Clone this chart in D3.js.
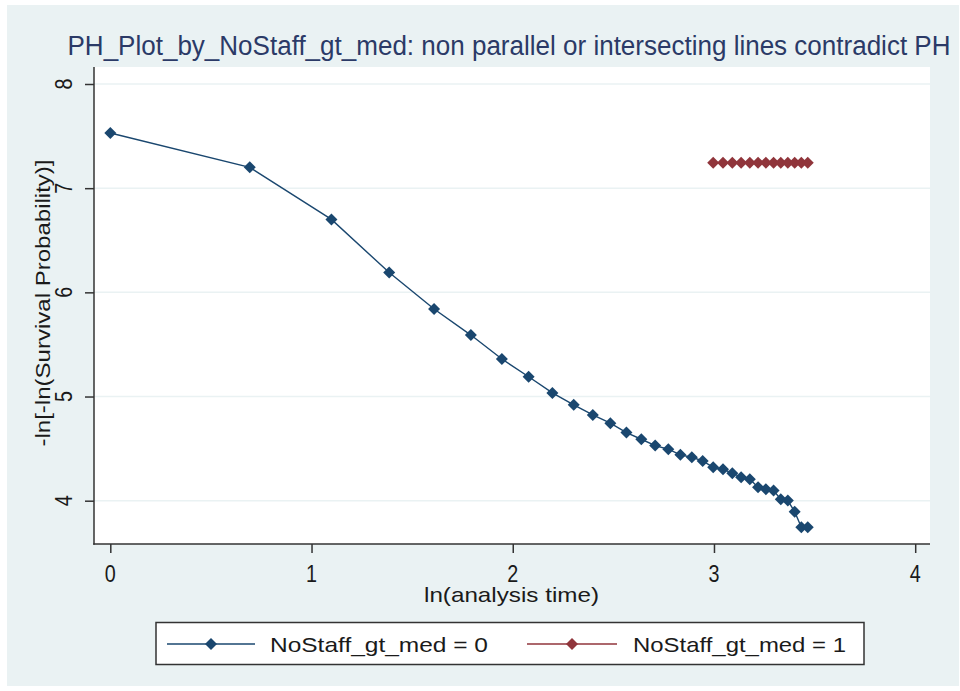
<!DOCTYPE html>
<html>
<head>
<meta charset="utf-8">
<script src="https://cdn.jsdelivr.net/npm/d3@7"></script>
<style>
    body { margin: 0; background: #ffffff; }
    text { font-family: "Liberation Sans", Arial, sans-serif; }
</style>
</head>
<body>
<script>
// ln(analysis time) and -ln[-ln(S)]
var lnTime0 = [0, 0.693, 1.099, 1.386, 1.609, 1.792, 1.946, 2.079, 2.197, 2.303,
    2.398, 2.485, 2.565, 2.639, 2.708, 2.773, 2.833, 2.890, 2.944, 2.996,
    3.045, 3.091, 3.135, 3.178, 3.219, 3.258, 3.296, 3.332, 3.367, 3.401,
    3.434, 3.466];
var lnlnS0 = [7.53, 7.20, 6.70, 6.19, 5.84, 5.59, 5.36, 5.19, 5.035, 4.92,
    4.823, 4.744, 4.654, 4.59, 4.529, 4.494, 4.44, 4.417, 4.382, 4.321,
    4.302, 4.264, 4.226, 4.206, 4.13, 4.111, 4.097, 4.014, 4.001, 3.895,
    3.746, 3.746];

var lnTime1 = [2.996, 3.045, 3.091, 3.135, 3.178, 3.219, 3.258, 3.296, 3.332,
    3.367, 3.401, 3.434, 3.466];
var lnlnS1 = [7.245, 7.245, 7.245, 7.245, 7.245, 7.245, 7.245, 7.245, 7.245,
    7.245, 7.245, 7.245, 7.245];

var xTicks = [0, 1, 2, 3, 4];
var yTicks = [4, 5, 6, 7, 8];

var seriesNames = ["NoStaff_gt_med = 0", "NoStaff_gt_med = 1"];
var seriesColors = ["#1a476f", "#90353b"];

var titleText = "PH_Plot_by_NoStaff_gt_med: non parallel or intersecting lines contradict PH";
var xTitle = "ln(analysis time)";
var yTitle = "-ln[-ln(Survival Probability)]";

var W = 960, H = 691;
var plot = {left: 94, right: 930, top: 67, bottom: 544};

var svg = d3.select("body").append("svg")
    .attr("width", W)
    .attr("height", H);

// graph region
svg.append("rect")
    .attr("x", 7).attr("y", 5)
    .attr("width", W - 8).attr("height", H - 10)
    .attr("fill", "#eaf2f3");

// plot region
svg.append("rect")
    .attr("x", plot.left).attr("y", plot.top)
    .attr("width", plot.right - plot.left)
    .attr("height", plot.bottom - plot.top)
    .attr("fill", "#ffffff");

var x = d3.scaleLinear().domain([0, 4]).range([110.3, 915.2]);
var y = d3.scaleLinear().domain([4, 8]).range([500.7, 84]);

// grid
svg.append("g")
    .selectAll("line")
    .data(yTicks)
    .enter()
    .append("line")
    .attr("x1", plot.left).attr("x2", plot.right)
    .attr("y1", function (d) { return y(d); })
    .attr("y2", function (d) { return y(d); })
    .attr("stroke", "#eaf2f3")
    .attr("stroke-width", 1.5);

// ticks via d3 axes, labels drawn separately (stata style)
var gx = svg.append("g")
    .attr("transform", "translate(0," + plot.bottom + ")")
    .call(d3.axisBottom(x).tickValues(xTicks).tickSize(9).tickSizeOuter(0).tickFormat(""));
var gy = svg.append("g")
    .attr("transform", "translate(" + plot.left + ",0)")
    .call(d3.axisLeft(y).tickValues(yTicks).tickSize(9).tickSizeOuter(0).tickFormat(""));
gx.select(".domain").remove();
gy.select(".domain").remove();
svg.selectAll(".tick line").attr("stroke", "#333333").attr("stroke-width", 1.5);

// axis lines
svg.append("line")
    .attr("x1", plot.left).attr("x2", plot.left)
    .attr("y1", plot.top).attr("y2", plot.bottom + 0.75)
    .attr("stroke", "#333333").attr("stroke-width", 1.5);
svg.append("line")
    .attr("x1", plot.left - 0.75).attr("x2", plot.right)
    .attr("y1", plot.bottom).attr("y2", plot.bottom)
    .attr("stroke", "#333333").attr("stroke-width", 1.5);

// tick labels
svg.append("g")
    .selectAll("text")
    .data(xTicks)
    .enter()
    .append("text")
    .attr("x", function (d) { return x(d); })
    .attr("y", 582)
    .attr("text-anchor", "middle")
    .attr("font-size", 24)
    .attr("textLength", 11)
    .attr("lengthAdjust", "spacingAndGlyphs")
    .attr("fill", "#1a1a1a")
    .text(function (d) { return d; });

svg.append("g")
    .selectAll("text")
    .data(yTicks)
    .enter()
    .append("text")
    .attr("transform", function (d) { return "translate(72," + y(d) + ") rotate(-90)"; })
    .attr("text-anchor", "middle")
    .attr("font-size", 24)
    .attr("textLength", 11)
    .attr("lengthAdjust", "spacingAndGlyphs")
    .attr("fill", "#1a1a1a")
    .text(function (d) { return d; });

// axis titles
svg.append("text")
    .attr("x", 511.5).attr("y", 601.5)
    .attr("text-anchor", "middle")
    .attr("font-size", 21)
    .attr("textLength", 175)
    .attr("lengthAdjust", "spacingAndGlyphs")
    .attr("fill", "#1a1a1a")
    .text(xTitle);

svg.append("text")
    .attr("transform", "translate(50,303) rotate(-90)")
    .attr("text-anchor", "middle")
    .attr("font-size", 21)
    .attr("textLength", 287)
    .attr("lengthAdjust", "spacingAndGlyphs")
    .attr("fill", "#1a1a1a")
    .text(yTitle);

// chart title
svg.append("text")
    .attr("x", 67.5).attr("y", 55)
    .attr("font-size", 27)
    .attr("textLength", 883)
    .attr("lengthAdjust", "spacingAndGlyphs")
    .attr("fill", "#2b3a67")
    .text(titleText);

function diamond(r) {
    return "M0," + (-r) + "L" + r + ",0L0," + r + "L" + (-r) + ",0Z";
}

function drawSeries(xs, ys, color) {
    var pts = xs.map(function (v, i) { return [v, ys[i]]; });
    var line = d3.line()
        .x(function (d) { return x(d[0]); })
        .y(function (d) { return y(d[1]); });
    svg.append("path")
        .datum(pts)
        .attr("d", line)
        .attr("fill", "none")
        .attr("stroke", color)
        .attr("stroke-width", 1.4);
    svg.append("g")
        .selectAll("path")
        .data(pts)
        .enter()
        .append("path")
        .attr("transform", function (d) { return "translate(" + x(d[0]) + "," + y(d[1]) + ")"; })
        .attr("d", diamond(6))
        .attr("fill", color);
}

drawSeries(lnTime0, lnlnS0, seriesColors[0]);
drawSeries(lnTime1, lnlnS1, seriesColors[1]);

// legend
var lg = svg.append("g");
lg.append("rect")
    .attr("x", 156).attr("y", 622.5)
    .attr("width", 708).attr("height", 42)
    .attr("fill", "#ffffff")
    .attr("stroke", "#333333")
    .attr("stroke-width", 1.5);

var legendItems = [
    {x1: 167, x2: 255, tx: 270, len: 218},
    {x1: 527, x2: 617, tx: 633, len: 213}
];
legendItems.forEach(function (it, i) {
    lg.append("line")
        .attr("x1", it.x1).attr("x2", it.x2)
        .attr("y1", 644).attr("y2", 644)
        .attr("stroke", seriesColors[i])
        .attr("stroke-width", 1.4);
    lg.append("path")
        .attr("transform", "translate(" + ((it.x1 + it.x2) / 2) + ",644)")
        .attr("d", diamond(6))
        .attr("fill", seriesColors[i]);
    lg.append("text")
        .attr("x", it.tx).attr("y", 651.5)
        .attr("font-size", 21)
        .attr("textLength", it.len)
        .attr("lengthAdjust", "spacingAndGlyphs")
        .attr("fill", "#1a1a1a")
        .text(seriesNames[i]);
});
</script>
</body>
</html>
